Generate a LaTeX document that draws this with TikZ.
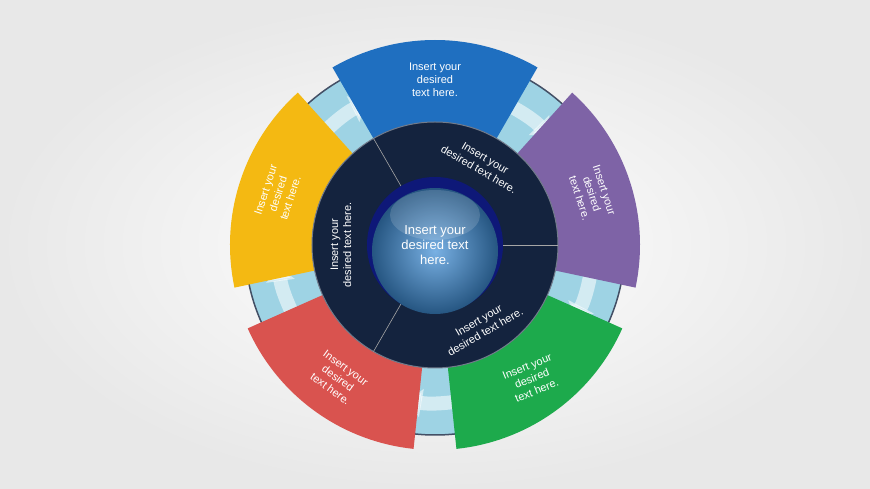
\documentclass[tikz,border=0pt]{standalone}
\usepackage{fontspec}
\setmainfont{Liberation Sans}
\usetikzlibrary{arrows.meta}
\definecolor{cblue}{HTML}{1F6FC0}
\definecolor{cpurple}{HTML}{7E63A6}
\definecolor{cgreen}{HTML}{1DAA4C}
\definecolor{cred}{HTML}{D9534F}
\definecolor{cyellow}{HTML}{F4B912}
\definecolor{navy}{HTML}{14233E}
\definecolor{band}{HTML}{9ED3E4}
\definecolor{sph}{HTML}{3F8FD8}
\tikzset{txt/.style={text=white,align=center,font=\fontsize{11}{13}\selectfont},
 gaparrow/.style={white,opacity=.55,line width=14pt,-{Triangle[length=14pt,width=28pt]}}}
\begin{document}
\begin{tikzpicture}[x=1pt,y=1pt]
\shade[inner color=white,outer color=gray!18] (-435,-244) rectangle (435,245);
\useasboundingbox (-435,-244) rectangle (435,245);
% band
\fill[band,draw=navy!80,line width=1.5pt] (0,0) circle (190);
% gap arrows
\foreach \g in {54,-18,-90,-162,126}{
  \draw[gaparrow] (\g+14:158) arc[start angle=\g+14,end angle=\g-10,radius=158];
}
% segments
\foreach \a/\c in {90/cblue,18/cpurple,-54/cgreen,-126/cred,162/cyellow}{
  \pgfmathsetmacro\s{\a-30}\pgfmathsetmacro\e{\a+30}
  \fill[\c] (\s:205) arc[start angle=\s,end angle=\e,radius=205] -- (\e:115) arc[start angle=\e,end angle=\s,radius=115] -- cycle;
}
% navy disc
\fill[navy,draw=navy!60!white,line width=1pt] (0,0) circle (123);
\foreach \t in {0,120,240} \draw[gray!70,line width=0.6pt] (\t:66) -- (\t:123);
% center sphere
\fill[navy!70!blue] (0,0) circle (68);
\shade[inner color=sph!70!white,outer color=sph!60!black] (0,-6) circle (63);
\shade[top color=white,bottom color=white,opacity=.15] (0,30) ellipse (45 and 25);
\node[txt,font=\fontsize{13}{15}\selectfont] (c) at (0,0) {Insert your\\desired text\\here.};
% segment texts
\node[txt] (t1) at (90:165) {Insert your\\desired\\text here.};
\node[txt,rotate=-72] (t2) at (18:165) {Insert your\\desired\\text here.};
\node[txt,rotate=22] (t3) at (-54:165) {Insert your\\desired\\text here.};
\node[txt,rotate=-36] (t4) at (-126:165) {Insert your\\desired\\text here.};
\node[txt,rotate=72] (t5) at (162:165) {Insert your\\desired\\text here.};
% inner texts
\node[txt,rotate=-30] (i1) at (60:94) {Insert your\\desired text here.};
\node[txt,rotate=90] (i2) at (180:94) {Insert your\\desired text here.};
\node[txt,rotate=30] (i3) at (-60:94) {Insert your\\desired text here.};
\end{tikzpicture}
\end{document}
